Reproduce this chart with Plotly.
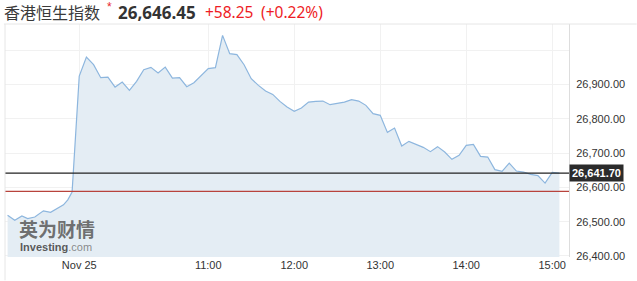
import plotly.graph_objects as go
import pandas as pd

# ---- data ----
pre_times = ["08:40", "08:45", "08:50", "08:54", "08:59", "09:05", "09:10", "09:14", "09:19", "09:22", "09:25"]
pre_values = [26518.4, 26503.9, 26516.4, 26508.8, 26513.5, 26531.5, 26527.2, 26535.9, 26549.0, 26563.6, 26586.3]

session_start = "09:30"
session_step_min = 5
session_values = [
    26924.2, 26979.6, 26957.4, 26919.6, 26921.3, 26892.2, 26906.7, 26882.6, 26908.8, 26942.9,
    26949.6, 26933.0, 26950.4, 26918.4, 26919.6, 26893.3, 26905.0, 26926.3, 26945.8, 26948.7,
    27042.8, 26989.5, 26986.6, 26957.4, 26916.6, 26897.1, 26880.5, 26870.9, 26850.5, 26833.9,
    26821.4, 26831.0, 26848.5, 26850.5, 26851.4, 26840.9, 26844.7, 26848.5, 26855.5, 26851.4,
    26838.9, 26814.7, 26809.7, 26760.2, 26772.7, 26720.3, 26734.0, 26724.4, 26716.5, 26704.0,
    26718.6, 26702.8, 26681.6, 26693.2, 26722.3, 26725.3, 26690.3, 26688.3, 26651.6, 26646.6,
    26670.8, 26647.5, 26644.6, 26637.9, 26634.1, 26612.5, 26643.7, 26641.7,
]

last_price = 26641.70
prev_close = 26588.20
header_name = "香港恒生指数"
header_price = "26,646.45"
header_change = "+58.25"
header_pct = "(+0.22%)"

tick_times = ["09:30", "11:00", "12:00", "13:00", "14:00", "15:00"]
tick_labels = ["Nov 25", "11:00", "12:00", "13:00", "14:00", "15:00"]
y_ticks = [26400, 26500, 26600, 26700, 26800, 26900, 27000]
y_tick_labels = ["26,400.00", "26,500.00", "26,600.00", "26,700.00", "26,800.00", "26,900.00", ""]

day = "2019-11-25 "
x_range = [day + "08:38:12", day + "15:11:42"]
y_range = [26397, 27076]

# ---- build ----
pre_x = pd.to_datetime([day + t for t in pre_times])
sess_x = pd.date_range(day + session_start, periods=len(session_values), freq=f"{session_step_min}min")
xs = list(pre_x) + list(sess_x)
ys = pre_values + session_values

fig = go.Figure()
fig.add_trace(go.Scatter(
    x=xs, y=ys, mode="lines",
    line=dict(color="#8db6de", width=1.2),
    fill="tozeroy", fillcolor="#e4edf4",
    hoverinfo="skip",
))

fig.add_shape(type="line", xref="paper", yref="y", x0=0, x1=1, y0=prev_close, y1=prev_close,
              line=dict(color="#b8433c", width=1.2), layer="above")
fig.add_shape(type="line", xref="paper", yref="y", x0=0, x1=1, y0=last_price, y1=last_price,
              line=dict(color="#222222", width=1.2), layer="above")
fig.add_shape(type="line", xref="paper", yref="paper", x0=-0.002, x1=1.12, y0=1, y1=1,
              line=dict(color="#e6e6e6", width=1))

fig.add_annotation(xref="paper", yref="y", x=1.0, y=last_price, xanchor="left", yanchor="middle",
                   text=f"<b>{last_price:,.2f}</b>", showarrow=False,
                   font=dict(family="Arial, Liberation Sans", size=11, color="white"),
                   bgcolor="#2b2b2b", borderpad=2)

# header
def paper_x(px):
    return (px - 5) / 564

def paper_y(py):
    return (257 - py) / 233

fig.add_annotation(xref="paper", yref="paper", x=paper_x(2), y=paper_y(12), xanchor="left", yanchor="middle",
                   text=header_name, showarrow=False,
                   font=dict(family="Noto Sans CJK SC", size=16, color="#3a3a3a"))
fig.add_annotation(xref="paper", yref="paper", x=paper_x(105), y=paper_y(7), xanchor="left", yanchor="middle",
                   text="*", showarrow=False,
                   font=dict(family="Arial", size=12, color="#e8262b"))
fig.add_annotation(xref="paper", yref="paper", x=paper_x(116), y=paper_y(12), xanchor="left", yanchor="middle",
                   text=f"<b>{header_price}</b>", showarrow=False,
                   font=dict(family="Noto Sans", size=17, color="#333333"))
fig.add_annotation(xref="paper", yref="paper", x=paper_x(203), y=paper_y(12), xanchor="left", yanchor="middle",
                   text=header_change, showarrow=False,
                   font=dict(family="Noto Sans", size=15.5, color="#ee1c25"))
fig.add_annotation(xref="paper", yref="paper", x=paper_x(259), y=paper_y(12), xanchor="left", yanchor="middle",
                   text=header_pct, showarrow=False,
                   font=dict(family="Noto Sans", size=15.5, color="#ee1c25"))

# watermark
fig.add_annotation(xref="paper", yref="paper", x=paper_x(17), y=paper_y(228), xanchor="left", yanchor="middle",
                   text="<b>英为财情</b>", showarrow=False,
                   font=dict(family="Noto Sans CJK SC", size=19, color="rgba(95,95,95,0.9)"))
fig.add_annotation(xref="paper", yref="paper", x=paper_x(18), y=paper_y(247), xanchor="left", yanchor="middle",
                   text="<b>Investing</b><span style='color:rgba(120,120,120,0.9)'>.com</span>", showarrow=False,
                   font=dict(family="Arial, Liberation Sans", size=11, color="rgba(80,80,80,0.95)"))

fig.update_layout(
    width=637, height=281,
    margin=dict(l=5, r=68, t=24, b=24),
    paper_bgcolor="white", plot_bgcolor="white",
    showlegend=False,
    xaxis=dict(
        type="date", range=x_range,
        tickvals=[day + t for t in tick_times], ticktext=tick_labels,
        showgrid=True, gridcolor="#f1f1f1", gridwidth=1,
        showline=False, zeroline=False, ticks="",
        tickfont=dict(family="Arial, Liberation Sans", size=11, color="#333333"),
    ),
    yaxis=dict(
        side="right", range=y_range,
        tickvals=y_ticks, ticktext=y_tick_labels,
        showgrid=True, gridcolor="#f1f1f1", gridwidth=1,
        showline=True, linecolor="#dddddd", linewidth=1, mirror=False,
        zeroline=False, ticks="", ticklabelstandoff=4,
        tickfont=dict(family="Arial, Liberation Sans", size=11, color="#333333"),
    ),
)
fig.add_shape(type="line", xref="paper", yref="paper", x0=0, x1=0, y0=-0.1, y1=1,
              line=dict(color="#e6e6e6", width=1))

fig.write_html("out.html")
